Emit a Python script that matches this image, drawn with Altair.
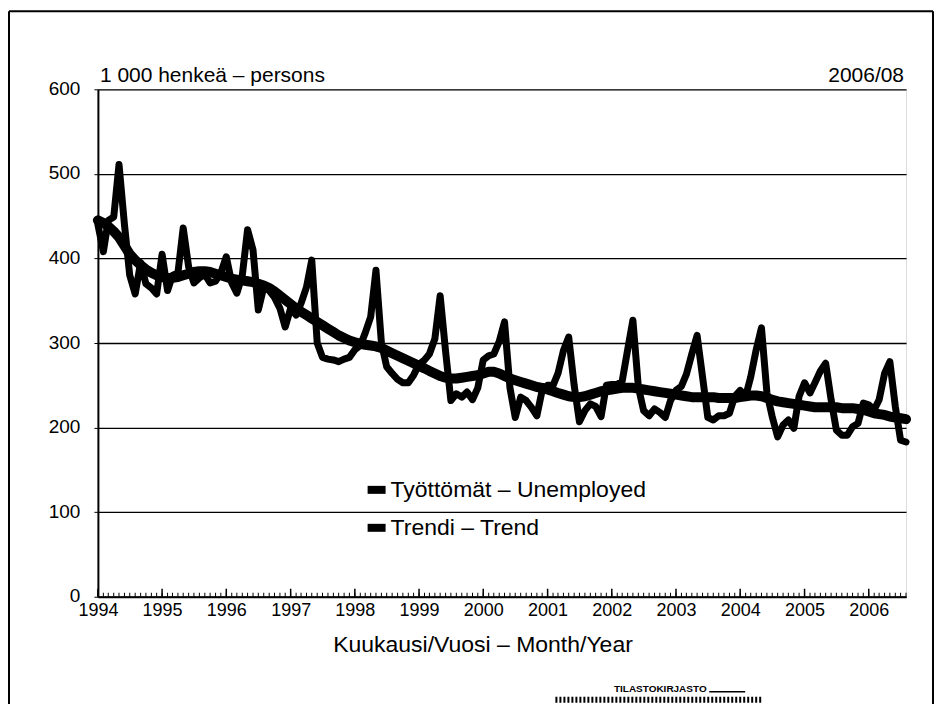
import altair as alt
import pandas as pd

# ---- data (1 000 persons), Jan 1994 .. Aug 2006 ----
unemp_1994 = [440, 408, 445, 449, 511, 440, 380, 358, 395, 370, 365, 358]
unemp_1995 = [405, 362, 380, 383, 436, 390, 371, 377, 381, 371, 373, 383]
unemp_1996 = [402, 371, 359, 380, 434, 410, 339, 366, 362, 354, 341, 319]
unemp_1997 = [341, 333, 347, 366, 398, 300, 283, 281, 280, 278, 281, 283]
unemp_1998 = [292, 297, 312, 331, 386, 300, 272, 264, 257, 253, 253, 262]
unemp_1999 = [275, 280, 287, 305, 356, 290, 232, 240, 236, 242, 233, 247]
unemp_2000 = [280, 285, 287, 302, 325, 247, 212, 236, 232, 224, 214, 244]
unemp_2001 = [250, 250, 264, 291, 307, 250, 207, 220, 228, 225, 213, 250]
unemp_2002 = [251, 251, 255, 292, 327, 248, 220, 214, 222, 218, 212, 232]
unemp_2003 = [244, 249, 263, 287, 309, 260, 212, 209, 214, 214, 217, 237]
unemp_2004 = [244, 237, 260, 292, 318, 241, 213, 189, 203, 209, 199, 237]
unemp_2005 = [253, 241, 253, 267, 276, 233, 197, 191, 191, 201, 205, 229]
unemp_2006 = [227, 221, 233, 264, 278, 225, 185, 183]

trend_1994 = [445, 442, 438, 432, 425, 415, 405, 398, 392, 387, 383, 380]
trend_1995 = [378, 377, 377, 378, 380, 382, 384, 385, 385, 384, 382, 380]
trend_1996 = [378, 376, 375, 374, 373, 372, 370, 368, 365, 361, 356, 351]
trend_1997 = [346, 341, 337, 333, 329, 325, 321, 317, 313, 309, 306, 303]
trend_1998 = [301, 299, 298, 297, 296, 294, 291, 288, 285, 282, 279, 276]
trend_1999 = [273, 270, 267, 264, 261, 259, 258, 258, 259, 260, 261, 262]
trend_2000 = [264, 266, 266, 264, 261, 258, 256, 254, 252, 250, 248, 247]
trend_2001 = [245, 243, 241, 239, 237, 236, 236, 237, 239, 241, 243, 244]
trend_2002 = [245, 246, 247, 247, 247, 246, 245, 244, 243, 242, 241, 240]
trend_2003 = [239, 238, 237, 236, 236, 236, 236, 236, 235, 235, 235, 235]
trend_2004 = [236, 237, 238, 238, 237, 235, 233, 231, 230, 229, 228, 227]
trend_2005 = [226, 225, 224, 224, 224, 224, 224, 223, 223, 223, 222, 221]
trend_2006 = [219, 217, 216, 215, 213, 212, 211, 210]

series_names = ["Työttömät – Unemployed", "Trendi – Trend"]
year_labels = [str(y) for y in range(1994, 2007)]
y_ticks = [0, 100, 200, 300, 400, 500, 600]

unemployed = (unemp_1994 + unemp_1995 + unemp_1996 + unemp_1997 + unemp_1998 +
              unemp_1999 + unemp_2000 + unemp_2001 + unemp_2002 + unemp_2003 +
              unemp_2004 + unemp_2005 + unemp_2006)
trend = (trend_1994 + trend_1995 + trend_1996 + trend_1997 + trend_1998 +
         trend_1999 + trend_2000 + trend_2001 + trend_2002 + trend_2003 +
         trend_2004 + trend_2005 + trend_2006)

months = pd.date_range("1994-01-01", periods=len(unemployed), freq="MS")
mstr = [d.strftime("%Y-%m-%d") for d in months]

df = pd.DataFrame({
    "date": mstr * 2,
    "value": unemployed + trend,
    "series": [series_names[0]] * len(mstr) + [series_names[1]] * len(mstr),
})
ticks_df = pd.DataFrame({"date": mstr, "year_start": [d.month == 1 for d in months]})

FONT = "Liberation Sans, Arial, sans-serif"
W, H = 809, 508

xscale = alt.Scale(domain=[mstr[0], mstr[-1]])
yscale = alt.Scale(domain=[0, 600], nice=False)
cscale = alt.Scale(domain=series_names, range=["black", "black"])

xaxis = alt.Axis(
    values=[f"{y}-01-01" for y in year_labels], format="%Y", labelFont=FONT,
    labelFontSize=18, labelColor="black", labelPadding=5, ticks=False,
    domainColor="black", domainWidth=2, grid=False,
    title="Kuukausi/Vuosi – Month/Year", titleFont=FONT, titleFontSize=23,
    titleFontWeight="normal", titleColor="black", titleX=385, titleY=55,
    titleBaseline="alphabetic", titleAnchor="middle", labelFlush=False,
)
yaxis = alt.Axis(
    values=y_ticks, labelFont=FONT, labelFontSize=19, labelColor="black",
    labelPadding=14, tickSize=4, tickColor="black", domainColor="black",
    domainWidth=2, gridColor="black", gridWidth=1.3, gridOpacity=1, title=None,
    labelBaseline="alphabetic", labelOffset=5,
)

base = alt.Chart(df)

trend_line = base.transform_filter(alt.datum.series == series_names[1]).mark_line(
    strokeWidth=10, strokeJoin="round", strokeCap="round"
).encode(
    x=alt.X("date:T", scale=xscale, axis=xaxis),
    y=alt.Y("value:Q", scale=yscale, axis=yaxis),
    color=alt.Color("series:N", scale=cscale, sort=series_names, legend=alt.Legend(
        title=None, orient="none", legendX=266, legendY=388, symbolType="stroke",
        symbolStrokeWidth=8, symbolSize=324, labelFont=FONT, labelFontSize=23,
        labelColor="black", labelOffset=1, rowPadding=6, labelLimit=500,
        symbolStrokeColor="black")),
)

unemp_line = base.transform_filter(alt.datum.series == series_names[0]).mark_line(
    strokeWidth=7, strokeJoin="round", strokeCap="round"
).encode(
    x=alt.X("date:T", scale=xscale),
    y=alt.Y("value:Q", scale=yscale),
    color=alt.Color("series:N", scale=cscale, sort=series_names),
)

minor_ticks = alt.Chart(ticks_df).mark_rule(color="black", strokeWidth=1).encode(
    x=alt.X("date:T", scale=xscale),
    y=alt.value(H),
    y2=alt.value(H - 4),
)
major_ticks = alt.Chart(ticks_df).transform_filter(alt.datum.year_start).mark_rule(
    color="black", strokeWidth=1.5).encode(
    x=alt.X("date:T", scale=xscale),
    y=alt.value(H),
    y2=alt.value(H - 8),
)

unit_text = alt.Chart(pd.DataFrame({"t": ["1 000 henkeä – persons"]})).mark_text(
    align="left", baseline="alphabetic", font=FONT, fontSize=21, color="black"
).encode(text="t:N", x=alt.value(2), y=alt.value(-7))

date_text = alt.Chart(pd.DataFrame({"t": ["2006/08"]})).mark_text(
    align="right", baseline="alphabetic", font=FONT, fontSize=21, color="black"
).encode(text="t:N", x=alt.value(W - 2), y=alt.value(-7))

logo_text = alt.Chart(pd.DataFrame({"t": ["TILASTOKIRJASTO"]})).mark_text(
    align="center", baseline="alphabetic", font=FONT, fontSize=10,
    fontWeight="bold", color="black"
).encode(text="t:N", x=alt.value(563), y=alt.value(603))

logo_line = alt.Chart(pd.DataFrame({"k": [0]})).mark_rule(
    color="black", strokeWidth=1.5
).encode(x=alt.value(612), x2=alt.value(648), y=alt.value(603))

logo_bar = alt.Chart(pd.DataFrame({"k": [0]})).mark_rule(
    color="black", strokeWidth=6, strokeDash=[2, 2]
).encode(x=alt.value(458), x2=alt.value(664), y=alt.value(611))

frame_left = alt.Chart(pd.DataFrame({"k": [0]})).mark_rule(color="black", strokeWidth=2).encode(
    x=alt.value(-89), y=alt.value(-78), y2=alt.value(620))
frame_right = alt.Chart(pd.DataFrame({"k": [0]})).mark_rule(color="black", strokeWidth=2).encode(
    x=alt.value(836), y=alt.value(-78), y2=alt.value(620))
frame_top = alt.Chart(pd.DataFrame({"k": [0]})).mark_rule(color="black", strokeWidth=2).encode(
    x=alt.value(-89), x2=alt.value(836), y=alt.value(-78))

chart = alt.layer(
    trend_line, unemp_line, minor_ticks, major_ticks, unit_text, date_text,
    logo_text, logo_line, logo_bar, frame_left, frame_right, frame_top,
).properties(
    width=W, height=H,
    padding={"left": 90, "top": 81, "right": 28, "bottom": 107},
    autosize=alt.AutoSizeParams(type="none"),
).configure_view(
    stroke="black", strokeWidth=2
).configure(background="white")

chart.save("out.html", embed_options={"renderer": "svg", "actions": False})
